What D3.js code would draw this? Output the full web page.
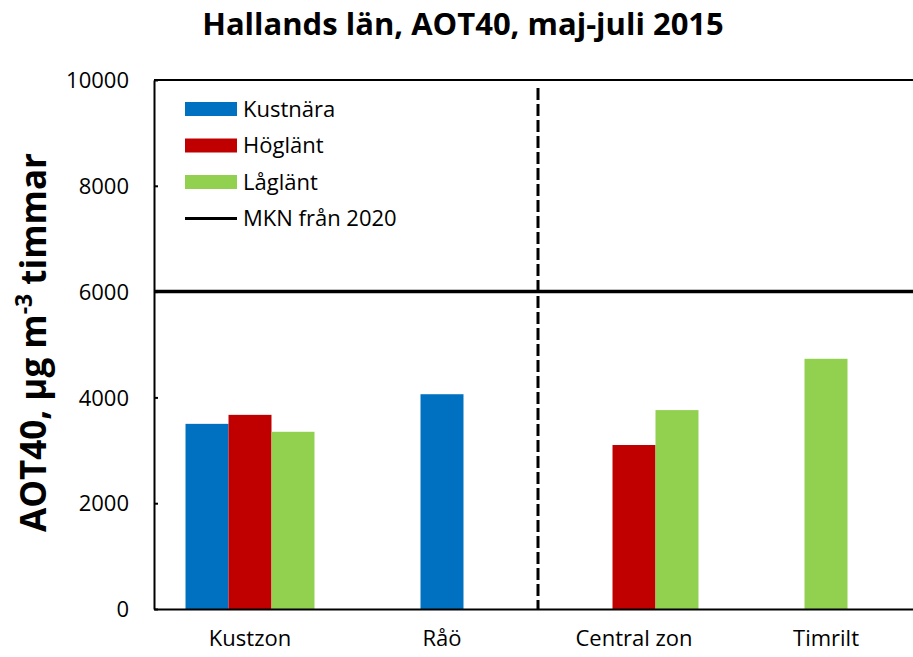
<!DOCTYPE html>
<html>
<head>
<meta charset="utf-8">
<script src="https://cdn.jsdelivr.net/npm/d3@7"></script>
<style>
	body { margin: 0; background: #fff; }
	svg { display: block; font-family: "Open Sans", sans-serif; }
</style>
</head>
<body>
<div id="chart"></div>
<script>
const categories = ["Kustzon", "Råö", "Central zon", "Timrilt"];
const groupNames = ["Kustnära", "Höglänt", "Låglänt"];
const groupColors = ["#0070C0", "#C00000", "#92D050"];
// three bar slots per category like the original sheet, null = empty slot
const slotValues = [[3500, 3670, 3350], [null, 4060, null], [null, 3100, 3760], [null, 4730, null]];
const slotGroups = [["Kustnära", "Höglänt", "Låglänt"], [null, "Kustnära", null], [null, "Höglänt", "Låglänt"], [null, "Låglänt", null]];
const yTicks = [0, 2000, 4000, 6000, 8000, 10000];
const mknValue = 6000;
const mknLabel = "MKN från 2020";
const dividerBefore = "Central zon";

const width = 913, height = 657;
const m = {left: 154, top: 80, right: -9, bottom: 48};
const w = width - m.left - m.right, h = height - m.top - m.bottom;

const svg = d3.select('#chart').append('svg')
	.attr('width', width)
	.attr('height', height);

//title
svg.append('text')
	.attr('x', 463).attr('y', 35)
	.attr('text-anchor', 'middle')
	.style('font-size', '31px')
	.style('font-weight', 'bold')
	.text('Hallands län, AOT40, maj-juli 2015');

//y label
const yl = svg.append('text')
	.attr('transform', 'translate(46,' + (m.top + h / 2 - 2) + ') rotate(-90)')
	.attr('text-anchor', 'middle')
	.style('font-size', '35px')
	.style('font-weight', 'bold');
yl.append('tspan').text('AOT40, µg m');
yl.append('tspan').attr('dy', -14).style('font-size', '23px').text('-3');
yl.append('tspan').attr('dy', 14).text(' timmar');

const plot = svg.append('g').attr('transform', 'translate(' + m.left + ',' + m.top + ')');

const x0 = d3.scaleBand().domain(categories).range([0, w]);
const x1 = d3.scaleBand().domain([0, 1, 2]).range([0, x0.bandwidth()]).paddingOuter(0.733);
const y = d3.scaleLinear().domain([0, 10000]).range([h, 0]);
const color = d3.scaleOrdinal().domain(groupNames).range(groupColors);

//bars
const bars = [];
categories.forEach(function(c, i){
	slotValues[i].forEach(function(v, s){
		if(v != null) bars.push({cat: c, slot: s, value: v, group: slotGroups[i][s]});
	});
});

plot.selectAll('.bar')
	.data(bars)
	.enter().append('rect')
	.attr('class', 'bar')
	.attr('x', d => x0(d.cat) + x1(d.slot))
	.attr('y', d => y(d.value))
	.attr('width', x1.bandwidth())
	.attr('height', d => h - y(d.value))
	.style('fill', d => color(d.group));

//MKN line
plot.append('line')
	.attr('x1', 0).attr('x2', w)
	.attr('y1', y(mknValue)).attr('y2', y(mknValue))
	.style('stroke', '#000')
	.style('stroke-width', 3.5);

//divider
plot.append('line')
	.attr('x1', x0(dividerBefore)).attr('x2', x0(dividerBefore))
	.attr('y1', 8).attr('y2', h)
	.style('stroke', '#000')
	.style('stroke-width', 3)
	.style('stroke-dasharray', '12,4');

//frame top
plot.append('line')
	.attr('x1', 0).attr('x2', w)
	.attr('y1', 0).attr('y2', 0)
	.style('stroke', '#000')
	.style('stroke-width', 2);

//axes
const yAxis = plot.append('g')
	.call(d3.axisLeft(y).tickValues(yTicks).tickFormat(d3.format('d')).tickSizeInner(-4).tickSizeOuter(0).tickPadding(25))
	.attr('font-family', null);
yAxis.select('.domain').style('stroke-width', 2);
yAxis.selectAll('line').style('stroke-width', 2);
yAxis.selectAll('text').style('font-size', '22px').style('fill', '#000').attr('dy', '0.35em');

const xAxis = plot.append('g')
	.attr('transform', 'translate(0,' + h + ')')
	.call(d3.axisBottom(x0).tickSize(0).tickPadding(21))
	.attr('font-family', null);
xAxis.select('.domain').style('stroke-width', 2);
xAxis.selectAll('text').style('font-size', '22px').style('fill', '#000').attr('dy', '0.71em');

//legend
const legend = plot.append('g').attr('transform', 'translate(31,29)');
groupNames.forEach(function(g, i){
	const row = legend.append('g').attr('transform', 'translate(0,' + (i * 36.5) + ')');
	row.append('rect')
		.attr('x', 0).attr('y', -7)
		.attr('width', 52).attr('height', 14)
		.style('fill', color(g));
	row.append('text')
		.attr('x', 58).attr('y', 0).attr('dy', '0.35em')
		.style('font-size', '22px')
		.text(g);
});
const mrow = legend.append('g').attr('transform', 'translate(0,' + (3 * 36.5) + ')');
mrow.append('line')
	.attr('x1', 0).attr('x2', 52)
	.style('stroke', '#000').style('stroke-width', 3);
mrow.append('text')
	.attr('x', 58).attr('y', 0).attr('dy', '0.35em')
	.style('font-size', '22px')
	.text(mknLabel);
</script>
</body>
</html>
